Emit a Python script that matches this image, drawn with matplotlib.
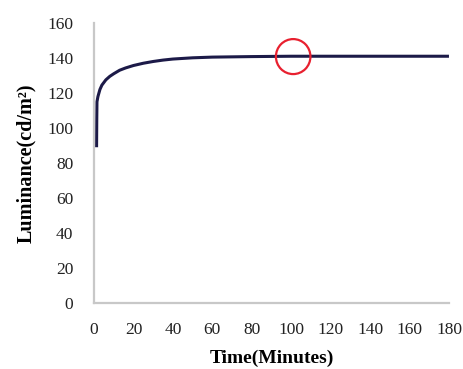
import matplotlib.pyplot as plt
from matplotlib.patches import Ellipse

# values
time_min = [1.3, 1.4, 1.5, 2, 3, 4, 6, 8, 10, 13, 16, 20, 25, 30, 35, 40, 50, 60, 80, 100, 120, 140, 160, 180]
luminance = [89, 105, 115, 118, 122, 124.5, 127.5, 129.5, 131, 133, 134.3, 135.7, 137, 138, 138.8, 139.4, 140.1, 140.5, 140.8, 141, 141, 141, 141, 141]
x_ticks = [0, 20, 40, 60, 80, 100, 120, 140, 160, 180]
y_ticks = [0, 20, 40, 60, 80, 100, 120, 140, 160]
marked_point = (101, 140.8)

plt.rcParams['font.family'] = ['Liberation Serif', 'DejaVu Serif']

fig = plt.figure(figsize=(4.64, 3.69), dpi=100)
ax = fig.add_axes([0.2026, 0.1789, 0.765, 0.7588])

ax.plot(time_min, luminance, color='#1c1a48', linewidth=2.2, solid_capstyle='butt')

# red circle around the plateau point
ax.add_patch(Ellipse(marked_point, width=17.5, height=20, fill=False,
                     edgecolor='#e8202f', linewidth=1.6, zorder=5))

ax.set_xlim(0, 180)
ax.set_ylim(0, 160)
ax.set_xticks(x_ticks)
ax.set_yticks(y_ticks)
ax.tick_params(length=0, labelsize=12.5, colors='#222222')
ax.tick_params(axis='y', pad=15)
ax.tick_params(axis='x', pad=14)

for side in ['top', 'right']:
    ax.spines[side].set_visible(False)
for side in ['left', 'bottom']:
    ax.spines[side].set_color('#c8c8c8')
    ax.spines[side].set_linewidth(1.6)

ax.set_ylabel('Luminance(cd/m²)', fontsize=14.5, fontweight='bold', labelpad=8)
ax.set_xlabel('Time(Minutes)', fontsize=14, fontweight='bold', labelpad=8)

fig.savefig('out.png', dpi=100)
